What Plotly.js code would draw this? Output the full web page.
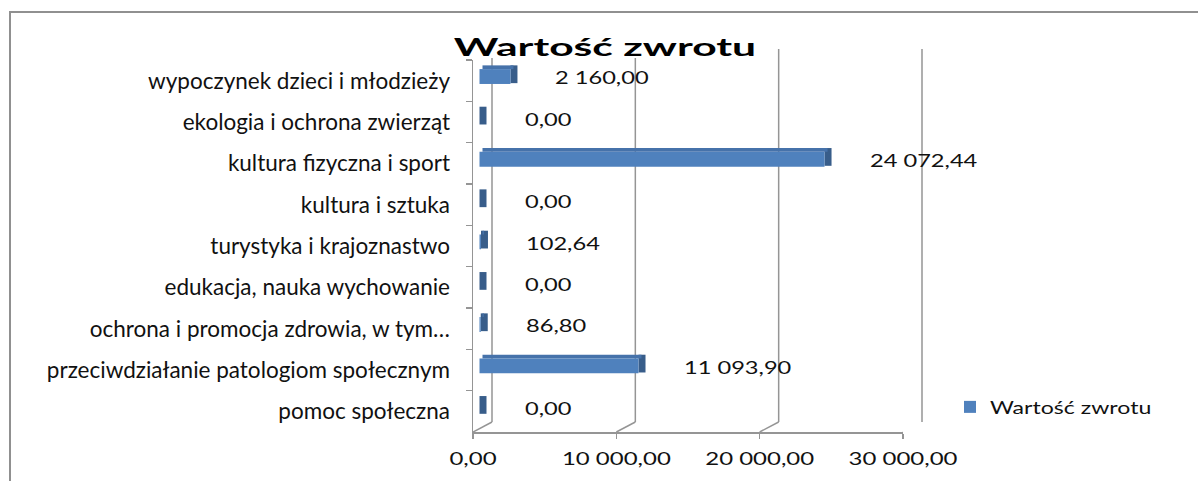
<!DOCTYPE html>
<html>
<head>
<meta charset="utf-8">
<script src="https://cdn.plot.ly/plotly-3.0.1.min.js"></script>
<style>
  html, body { margin: 0; padding: 0; background: #fff; overflow: hidden; }
  #wrap { position: relative; width: 1198px; height: 481px; }
  #chart { width: 1198px; height: 481px; }
  #frame { position: absolute; left: 9px; top: 11px; width: 1400px; height: 700px;
           border-left: 2px solid #909090; border-top: 2px solid #909090; pointer-events: none; }
</style>
</head>
<body>
<div id="wrap"><div id="chart"></div><div id="frame"></div></div>
<script>
// ---- data (top to bottom, as in the picture) ----
const categories = [
  "wypoczynek dzieci i młodzieży",
  "ekologia i ochrona zwierząt",
  "kultura fizyczna i sport",
  "kultura i sztuka",
  "turystyka i krajoznastwo",
  "edukacja, nauka wychowanie",
  "ochrona i promocja zdrowia, w tym…",
  "przeciwdziałanie patologiom społecznym",
  "pomoc społeczna"
];
const values = [2160.00, 0.00, 24072.44, 0.00, 102.64, 0.00, 86.80, 11093.90, 0.00];
const seriesName = "Wartość zwrotu";
const titleText = "Wartość zwrotu";
const xTickVals = [0, 10000, 20000, 30000];
const xRange = [0, 30000];

// ---- helpers ----
const W = 1198, H = 481;
const px = x => x / W;
const py = y => (H - y) / H;
function fmt(v) {
  const s = v.toFixed(2).split(".");
  const intPart = s[0].replace(/\B(?=(\d{3})+(?!\d))/g, " ");
  return intPart + "," + s[1];
}

// geometry of the pseudo-3D frame (pixels)
const FRONT_L = 473, FRONT_R = 903, FRONT_T = 60, FRONT_B = 432;
const DX = 19, DY = 10;                 // depth of the back wall
const BACK_T = 49;
const unitsPerPx = (xRange[1] - xRange[0]) / (FRONT_R - FRONT_L);
const BAR_SHIFT = 6.5;                  // bars sit slightly behind the front plane
const DEPTH = 7 * unitsPerPx;           // side face depth
const TOPBASE = 3 * unitsPerPx;
const GRIDPAD = 8;

const font = "Lato, 'Open Sans', sans-serif";
const gridColor = "#959595";

// back-wall gridlines as a line trace on the back axis (one segment per tick value)
const wallX = [], wallY = [];
xTickVals.forEach(v => { wallX.push(v, v, null); wallY.push(0, 1, null); });

const traces = [
  { type: "scatter", mode: "lines", x: wallX, y: wallY, xaxis: "x", yaxis: "y",
    line: { color: gridColor, width: 1.5 }, cliponaxis: false,
    showlegend: false, hoverinfo: "skip", connectgaps: false },
  // side faces
  { type: "bar", orientation: "h", y: categories, x: values.map(() => DEPTH), base: values,
    xaxis: "x3", yaxis: "y2", width: 0.43, offset: -0.37,
    marker: { color: "#385D8A", line: { width: 0 } }, showlegend: false, hoverinfo: "skip" },
  // top faces
  { type: "bar", orientation: "h", y: categories, x: values, base: values.map(() => TOPBASE),
    xaxis: "x3", yaxis: "y2", width: 0.09, offset: -0.37,
    marker: { color: "#4672AA", line: { width: 0 } }, showlegend: false, hoverinfo: "skip" },
  // front faces
  { type: "bar", orientation: "h", y: categories, x: values, name: seriesName,
    xaxis: "x3", yaxis: "y2", width: 0.36, offset: -0.28,
    marker: { color: "#4F81BD", line: { width: 0 } }, showlegend: true }
];

const annotations = categories.map((c, i) => ({
  x: values[i], y: c, xref: "x3", yref: "y2",
  text: fmt(values[i]), showarrow: false, xanchor: "left", yanchor: "middle", align: "left",
  xshift: 43, yshift: 3, font: { family: font, size: 17.5, color: "#111" }
}));

// floor diagonals from the front axis to the back wall
const shapes = xTickVals.map(v => ({
  type: "line", xref: "x2", yref: "paper", layer: "below",
  xsizemode: "pixel", xanchor: v, x0: 0, x1: DX,
  ysizemode: "pixel", yanchor: py(FRONT_B), y0: 0, y1: DY,
  line: { color: gridColor, width: 1.5 }
}));
// white box behind the title (it hides the top of the back-wall lines)
shapes.push({ type: "rect", xref: "paper", yref: "paper", layer: "above",
  x0: px(452), x1: px(758), y0: py(58), y1: py(28),
  fillcolor: "#ffffff", line: { width: 0 } });

const layout = {
  width: W, height: H,
  margin: { l: 0, r: 0, t: 0, b: 0 },
  paper_bgcolor: "#ffffff",
  plot_bgcolor: "rgba(0,0,0,0)",
  separators: ", ",
  barmode: "overlay",
  font: { family: font, size: 17, color: "#000" },
  title: {
    text: titleText, x: px(605), xanchor: "center", y: py(47), yanchor: "middle",
    yref: "container", xref: "container",
    font: { family: font, size: 25.5, weight: 700, color: "#000" }
  },
  // back wall axis (positions only)
  xaxis: {
    domain: [px(FRONT_L + DX - GRIDPAD), px(FRONT_R + DX + GRIDPAD)],
    range: [xRange[0] - GRIDPAD * unitsPerPx, xRange[1] + GRIDPAD * unitsPerPx],
    visible: false, showgrid: false, zeroline: false,
    anchor: "y", automargin: false, fixedrange: true
  },
  yaxis: {
    domain: [py(FRONT_B - DY), py(BACK_T)],
    range: [0, 1], visible: false, showgrid: false, zeroline: false,
    anchor: "x", fixedrange: true
  },
  // front plane: axes and labels
  xaxis2: {
    domain: [px(FRONT_L), px(FRONT_R)],
    range: xRange, tickvals: xTickVals, tickformat: ",.2f",
    showgrid: false, zeroline: false,
    showline: true, linecolor: gridColor, linewidth: 1.5,
    ticks: "outside", ticklen: 5, tickcolor: gridColor, tickwidth: 1.5,
    ticklabelstandoff: 5,
    tickfont: { family: font, size: 17.5, color: "#111" },
    anchor: "y2", automargin: false, fixedrange: true
  },
  yaxis2: {
    domain: [py(FRONT_B), py(FRONT_T)],
    type: "category", autorange: "reversed",
    showgrid: false, zeroline: false,
    showline: true, linecolor: gridColor, linewidth: 1.5,
    ticks: "outside", ticklen: 6, tickcolor: gridColor, tickwidth: 1.5, tickson: "boundaries",
    ticklabelstandoff: 17,
    tickfont: { family: font, size: 22.5, color: "#111" },
    anchor: "x2", automargin: false, fixedrange: true
  },
  // bars, slightly shifted behind the front plane
  xaxis3: {
    overlaying: "x2", anchor: "y2",
    range: [xRange[0] - BAR_SHIFT * unitsPerPx, xRange[1] - BAR_SHIFT * unitsPerPx],
    visible: false, showgrid: false, zeroline: false, fixedrange: true
  },
  showlegend: true,
  legend: {
    x: px(950), y: py(407), xanchor: "left", yanchor: "middle",
    bgcolor: "rgba(0,0,0,0)", borderwidth: 0,
    font: { family: font, size: 17.5, color: "#111" }
  },
  annotations: annotations,
  shapes: shapes
};

// the reference text is rendered horizontally wide: widen glyphs of some text groups
function stretch(nodes, f) {
  nodes.forEach(t => {
    const w = t.getComputedTextLength();
    if (w > 0) {
      t.setAttribute("textLength", (w * f).toFixed(1));
      t.setAttribute("lengthAdjust", "spacingAndGlyphs");
    }
  });
}

Plotly.newPlot("chart", traces, layout, { staticPlot: true, displayModeBar: false }).then(gd => {
  stretch(gd.querySelectorAll(".xaxislayer-above text"), 1.37);
  stretch(gd.querySelectorAll(".annotation-text"), 1.35);
  stretch(gd.querySelectorAll(".gtitle"), 1.67);
  stretch(gd.querySelectorAll(".legendtext"), 1.32);
  gd.querySelectorAll(".legend [clip-path]").forEach(e => e.removeAttribute("clip-path"));
});
</script>
</body>
</html>
